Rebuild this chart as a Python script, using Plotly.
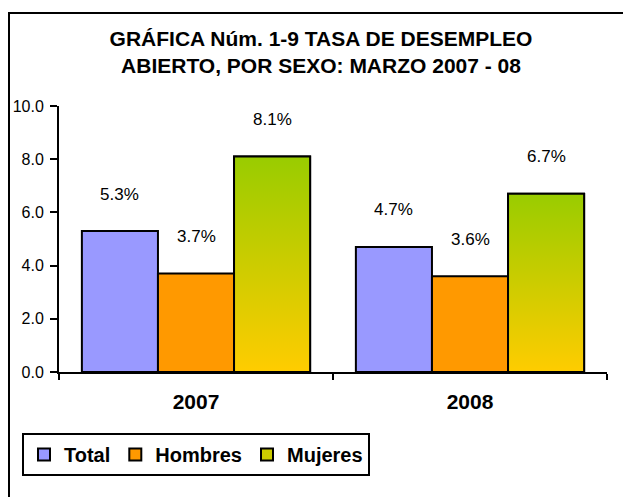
import plotly.graph_objects as go

# ---- data ----
years = ["2007", "2008"]
series_names = ["Total", "Hombres", "Mujeres"]
total = [5.3, 4.7]
hombres = [3.7, 3.6]
mujeres = [8.1, 6.7]
y_ticks = [0, 2, 4, 6, 8, 10]
title_lines = ["GRÁFICA Núm. 1-9 TASA DE DESEMPLEO", "ABIERTO, POR SEXO: MARZO 2007 - 08"]

# ---- style ----
W, H = 624, 498
ML, MR, MT, MB = 59, 17, 106, 126
FONT = "Arial, Liberation Sans, sans-serif"
colors = ["#9999FF", "#FF9900", "#CCCC00"]
grad_scale = [[0, "#FFCC00"], [1, "#99CC00"]]
BARGAP = 0.167

xpos = list(range(len(years)))
values = [total, hombres, mujeres]
nser = len(values)
bw = (1 - BARGAP) / nser

fig = go.Figure()
for name, vals, col in zip(series_names, values, colors):
    fig.add_trace(go.Bar(
        x=xpos, y=vals, name=f"<b>{name}</b>", legendgroup=name,
        marker=dict(color=col, line=dict(color="black", width=2)),
        hoverinfo="skip",
    ))

# gradient overlay for Mujeres bars (one polygon per bar, built from data)
k = 2
for xc, v in zip(xpos, mujeres):
    cx = xc + (k - (nser - 1) / 2) * bw
    x0, x1 = cx - bw / 2, cx + bw / 2
    fig.add_trace(go.Scatter(
        x=[x0, x0, x1, x1, x0], y=[0, v, v, 0, 0],
        mode="lines", fill="toself",
        fillgradient=dict(type="vertical", colorscale=grad_scale),
        line=dict(color="black", width=2),
        showlegend=False, hoverinfo="skip",
    ))

# data labels
annotations = []
for k, vals in enumerate(values):
    for xc, v in zip(xpos, vals):
        cx = xc + (k - (nser - 1) / 2) * bw
        annotations.append(dict(
            x=cx, y=v, xref="x", yref="y", text=f"{v:.1f}%",
            showarrow=False, yshift=37, yanchor="middle",
            font=dict(family=FONT, size=17, color="black"),
        ))

# outer frame (left and top edges; right/bottom lie outside the view)
ph = H - MT - MB
pw = W - ML - MR
def px2x(px):
    return (px - ML) / pw
def py2y(py):
    return 1 - (py - MT) / ph

frame_line = dict(color="black", width=2)
shapes = [
    dict(type="line", xref="paper", yref="paper",
         x0=px2x(9), x1=px2x(9), y0=py2y(H - 1), y1=py2y(12), line=frame_line),
    dict(type="line", xref="paper", yref="paper",
         x0=px2x(8), x1=px2x(W - 1), y0=py2y(13), y1=py2y(13), line=frame_line),
]

fig.update_layout(
    width=W, height=H,
    margin=dict(l=ML, r=MR, t=MT, b=MB),
    paper_bgcolor="white", plot_bgcolor="white",
    font=dict(family=FONT, color="black"),
    barmode="group", bargap=BARGAP, bargroupgap=0,
    title=dict(
        text="<b>" + "<br>".join(title_lines) + "</b>",
        x=321 / W, xanchor="center", xref="container",
        y=1 - 46 / H, yanchor="top", yref="container",
        font=dict(family=FONT, size=21, color="black"),
    ),
    xaxis=dict(
        range=[-0.5, 1.5], tickvals=xpos, ticktext=[f"<b>{y}</b>" for y in years],
        ticks="", showline=True, linecolor="black", linewidth=2,
        showgrid=False, zeroline=False,
        tickfont=dict(family=FONT, size=21, color="black", weight="bold"),
        ticklabelstandoff=10,
        minor=dict(tickvals=[-0.5, 0.5, 1.5], ticks="outside", ticklen=6,
                   tickwidth=2, tickcolor="black"),
    ),
    yaxis=dict(
        range=[0, 10], tickvals=y_ticks, tickformat=".1f",
        ticks="outside", ticklen=7, tickwidth=2, tickcolor="black",
        showline=True, linecolor="black", linewidth=2,
        showgrid=False, zeroline=False,
        tickfont=dict(family=FONT, size=16, color="black"),
        ticklabelstandoff=3,
    ),
    legend=dict(
        orientation="h", xref="container", yref="container",
        x=22 / W, y=1 - 433 / H, xanchor="left", yanchor="top",
        bordercolor="black", borderwidth=2, bgcolor="white",
        font=dict(family=FONT, size=20, color="black"),
        itemwidth=30, traceorder="normal",
    ),
    annotations=annotations,
    shapes=shapes,
)

fig.write_html("out.html", config={"displayModeBar": False},
               post_script="document.body.style.margin='0';")
